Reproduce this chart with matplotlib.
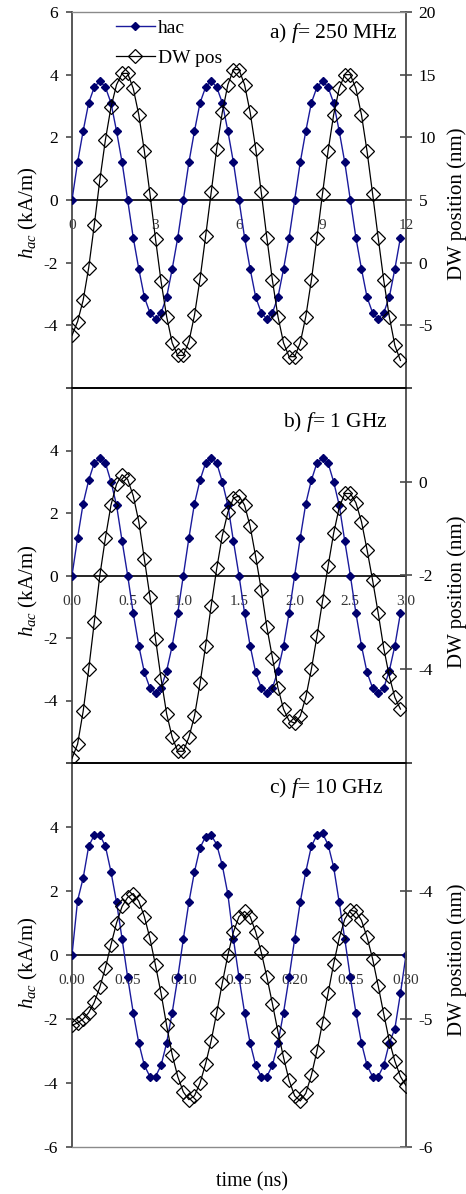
import numpy as np
import matplotlib
matplotlib.use('Agg')
import matplotlib.pyplot as plt

plt.rcParams['font.family'] = 'Liberation Serif'
plt.rcParams['mathtext.fontset'] = 'custom'
plt.rcParams['mathtext.rm'] = 'Liberation Serif'
plt.rcParams['mathtext.it'] = 'Liberation Serif:italic'

## Data
# sampling step of each panel (ns)
dt_a, dt_b, dt_c = 0.2, 0.05, 0.005

# applied field hac (kA/m)
hac_a = [0, 1.2, 2.2, 3.1, 3.6, 3.8, 3.6, 3.1, 2.2, 1.2, 0, -1.2, -2.2, -3.1, -3.6, -3.8, -3.6, -3.1, -2.2, -1.2,
         0, 1.2, 2.2, 3.1, 3.6, 3.8, 3.6, 3.1, 2.2, 1.2, 0, -1.2, -2.2, -3.1, -3.6, -3.8, -3.6, -3.1, -2.2, -1.2,
         0, 1.2, 2.2, 3.1, 3.6, 3.8, 3.6, 3.1, 2.2, 1.2, 0, -1.2, -2.2, -3.1, -3.6, -3.8, -3.6, -3.1, -2.2, -1.2]
hac_b = [0, 1.2, 2.3, 3.05, 3.6, 3.75, 3.6, 3.0, 2.25, 1.1, 0, -1.2, -2.25, -3.1, -3.6, -3.75, -3.6, -3.05, -2.25, -1.2,
         0, 1.2, 2.3, 3.05, 3.6, 3.75, 3.6, 3.0, 2.25, 1.1, 0, -1.2, -2.25, -3.1, -3.6, -3.75, -3.6, -3.05, -2.25, -1.2,
         0, 1.2, 2.3, 3.05, 3.6, 3.75, 3.6, 3.0, 2.25, 1.1, 0, -1.2, -2.25, -3.1, -3.6, -3.75, -3.6, -3.05, -2.25, -1.2]
hac_c = [0, 1.7, 2.4, 3.4, 3.75, 3.75, 3.4, 2.6, 1.65, 0.5, -0.7, -1.8, -2.75, -3.45, -3.8, -3.8, -3.45, -2.75, -1.8, -0.7,
         0.5, 1.65, 2.6, 3.35, 3.7, 3.75, 3.45, 2.8, 1.9, 0.5, -0.7, -1.8, -2.75, -3.45, -3.8, -3.8, -3.45, -2.75, -1.8, -0.7,
         0.5, 1.65, 2.6, 3.4, 3.75, 3.8, 3.45, 2.75, 1.65, 0.5, -0.7, -1.8, -2.75, -3.45, -3.8, -3.8, -3.45, -2.75, -2.3, -1.2,
         0]

# domain wall position (nm)
dw_a = [-5.8, -4.7, -3.0, -0.4, 3.0, 6.6, 9.8, 12.4, 14.2, 15.1, 15.1, 13.9, 11.8, 8.9, 5.5, 1.9, -1.5, -4.3, -6.4, -7.4,
        -7.4, -6.3, -4.2, -1.3, 2.1, 5.6, 9.1, 12.0, 14.2, 15.4, 15.4, 14.2, 12.0, 9.1, 5.6, 2.0, -1.4, -4.3, -6.4, -7.5,
        -7.5, -6.4, -4.3, -1.4, 2.0, 5.5, 8.9, 11.8, 13.9, 15.0, 15.0, 13.9, 11.8, 8.9, 5.5, 2.0, -1.4, -4.3, -6.6, -7.8]
dw_b = [-5.9, -5.6, -4.9, -4.0, -3.0, -2.0, -1.2, -0.5, -0.05, 0.15, 0.05, -0.3, -0.85, -1.65, -2.45, -3.35, -4.2, -4.95, -5.45, -5.75,
        -5.75, -5.45, -5.0, -4.3, -3.5, -2.65, -1.85, -1.15, -0.65, -0.35, -0.3, -0.5, -0.95, -1.6, -2.3, -3.1, -3.75, -4.4, -4.85, -5.1,
        -5.15, -5.0, -4.6, -4.0, -3.3, -2.55, -1.8, -1.1, -0.55, -0.25, -0.25, -0.45, -0.85, -1.45, -2.1, -2.8, -3.55, -4.15, -4.6, -4.85]
dw_c = [-5.05, -5.03, -5.0, -4.95, -4.87, -4.75, -4.6, -4.42, -4.25, -4.12, -4.05, -4.02, -4.08, -4.2, -4.37, -4.58, -4.8, -5.05, -5.28, -5.45,
        -5.57, -5.63, -5.6, -5.5, -5.35, -5.17, -4.95, -4.72, -4.5, -4.32, -4.2, -4.16, -4.2, -4.32, -4.48, -4.67, -4.88, -5.1, -5.3, -5.48,
        -5.6, -5.64, -5.58, -5.44, -5.25, -5.03, -4.8, -4.57, -4.37, -4.22, -4.15, -4.16, -4.23, -4.36, -4.53, -4.74, -4.96, -5.17, -5.33, -5.45,
        -5.52]

# axis ticks and labels
x_ticks_a = [0, 3, 6, 9, 12]
x_labels_a = ['0', '3', '6', '9', '12']
x_ticks_b = [0, 0.5, 1.0, 1.5, 2.0, 2.5, 3.0]
x_labels_b = ['0.0', '0.5', '1.0', '1.5', '2.0', '2.5', '3.0']
x_ticks_c = [0, 0.05, 0.10, 0.15, 0.20, 0.25, 0.30]
x_labels_c = ['0.00', '0.05', '0.10', '0.15', '0.20', '0.25', '0.30']

h_ticks = [-6, -4, -2, 0, 2, 4, 6]
h_labels_a = ['', '-4', '-2', '0', '2', '4', '6']
h_labels_b = ['', '-4', '-2', '0', '2', '4', '']
h_labels_c = ['-6', '-4', '-2', '0', '2', '4', '']

dw_ticks_a = [-10, -5, 0, 5, 10, 15, 20]
dw_labels_a = ['', '-5', '0', '5', '10', '15', '20']
dw_ticks_b = [-6, -4, -2, 0, 2]
dw_labels_b = ['', '-4', '-2', '0', '']
dw_ticks_c = [-6, -5, -4, -3]
dw_labels_c = ['-6', '-5', '-4', '']

notes = ['a) $f$= 250 MHz', 'b) $f$= 1 GHz', 'c) $f$= 10 GHz']

## Figure
W, H = 466, 1194
def rect(x0, y0, x1, y1):
    # pixel box -> figure fraction
    return [x0 / W, 1 - y1 / H, (x1 - x0) / W, (y1 - y0) / H]

fig = plt.figure(figsize=(W / 100, H / 100), dpi=100)

HAC_LINE = '#1a1a9c'
HAC_MARK = '#00006e'
AX_GREY = '#4a4a4a'

panels = [
    dict(box=(72, 12, 406, 388), t=np.arange(len(hac_a)) * dt_a, hac=hac_a, dw=dw_a,
         xlim=(0, 12), xt=x_ticks_a, xtl=x_labels_a, hl=h_labels_a,
         dwlim=(-10, 20), dwt=dw_ticks_a, dwtl=dw_labels_a,
         note=(0.976, 0.944), ylab=0.465, dwlab=0.49),
    dict(box=(72, 388, 406, 763), t=np.arange(len(hac_b)) * dt_b, hac=hac_b, dw=dw_b,
         xlim=(0, 3), xt=x_ticks_b, xtl=x_labels_b, hl=h_labels_b,
         dwlim=(-6, 2), dwt=dw_ticks_b, dwtl=dw_labels_b,
         note=(0.946, 0.909), ylab=0.46, dwlab=0.456),
    dict(box=(72, 763, 406, 1147), t=np.arange(len(hac_c)) * dt_c, hac=hac_c, dw=dw_c,
         xlim=(0, 0.3), xt=x_ticks_c, xtl=x_labels_c, hl=h_labels_c,
         dwlim=(-6, -3), dwt=dw_ticks_c, dwtl=dw_labels_c,
         note=(0.931, 0.935), ylab=0.479, dwlab=0.487),
]

axes = []
for i, p in enumerate(panels):
    ax = fig.add_axes(rect(*p['box']))
    tw = ax.twinx()
    ax.patch.set_visible(False)

    l1, = ax.plot(p['t'], p['hac'], color=HAC_LINE, lw=1.0, marker='D', ms=4.2,
                  mfc=HAC_MARK, mec=HAC_MARK, label='hac', zorder=3)
    l2, = tw.plot(p['t'], p['dw'], color='black', lw=0.9, marker='D', ms=7,
                  mfc='none', mec='black', mew=0.9, label='DW pos', zorder=3)

    ax.set_xlim(*p['xlim'])
    ax.set_ylim(-6, 6)
    tw.set_ylim(*p['dwlim'])

    ax.set_xticks(p['xt'], p['xtl'])
    ax.set_yticks(h_ticks, p['hl'])
    tw.set_yticks(p['dwt'], p['dwtl'])

    # x axis sits on the zero line
    ax.spines['bottom'].set_position(('data', 0))
    ax.spines['bottom'].set_color('black')
    ax.spines['bottom'].set_linewidth(1.2)
    ax.spines['top'].set_visible(False)
    ax.spines['right'].set_visible(False)
    ax.spines['left'].set_color(AX_GREY)
    ax.spines['left'].set_linewidth(1.3)

    # frame: outer edges grey, panel separators black
    tw.spines['left'].set_visible(False)
    tw.spines['right'].set_color(AX_GREY)
    tw.spines['right'].set_linewidth(1.3)
    tw.spines['top'].set_color('#8a8a8a' if i == 0 else 'black')
    tw.spines['top'].set_linewidth(1.0 if i == 0 else 1.2)
    tw.spines['bottom'].set_color('black' if i < 2 else '#8a8a8a')
    tw.spines['bottom'].set_linewidth(1.2 if i < 2 else 1.0)

    ax.tick_params(axis='x', length=0, pad=14, labelsize=11, labelcolor='#333333')
    ax.tick_params(axis='y', direction='out', length=4, width=1.2, color=AX_GREY,
                   pad=6, labelsize=12.5)
    tw.tick_params(axis='y', direction='inout', length=8, width=1.2, color=AX_GREY,
                   pad=5, labelsize=12.5)

    ax.set_ylabel('$h_{ac}$ (kA/m)', fontsize=15)
    ax.yaxis.set_label_coords(-0.096, p['ylab'])
    tw.set_ylabel('DW position (nm)', fontsize=15)
    tw.yaxis.set_label_coords(1.123, p['dwlab'])

    tw.text(p['note'][0], p['note'][1], notes[i], transform=tw.transAxes,
            ha='right', va='center', fontsize=15.5)

    if i == 0:
        tw.legend(handles=[l1, l2], loc='upper left', bbox_to_anchor=(0.12, 0.99),
                  frameon=False, fontsize=14, handlelength=2.0, handletextpad=0.15,
                  labelspacing=0.6, borderaxespad=0.0, borderpad=0.2)
    axes.append(ax)

axes[-1].set_xlabel('time (ns)', fontsize=14.5)
axes[-1].xaxis.set_label_coords((252 - 72) / 334, -0.066)

fig.savefig('out.png', dpi=100)
